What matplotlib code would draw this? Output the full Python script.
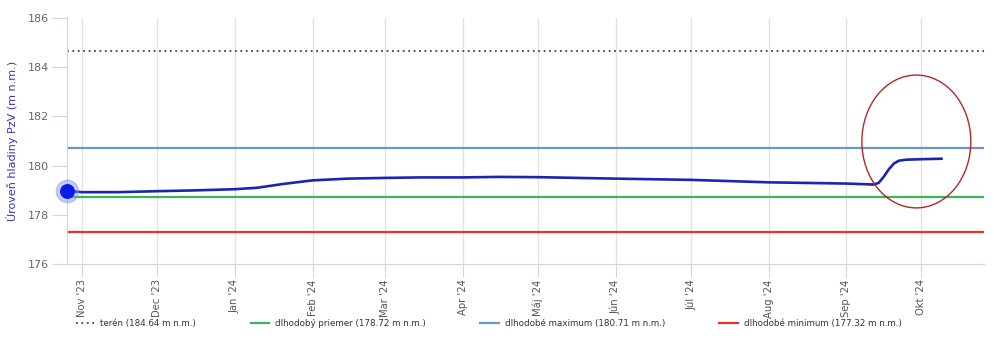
import numpy as np
import pandas as pd
import matplotlib
matplotlib.use("Agg")
import matplotlib.pyplot as plt
import matplotlib.dates as mdates
from matplotlib.patches import Ellipse

# water level series
dates = pd.to_datetime([
    "2023-10-26", "2023-11-01", "2023-11-15", "2023-12-01", "2023-12-15",
    "2024-01-01", "2024-01-10", "2024-01-20", "2024-02-01", "2024-02-15",
    "2024-03-01", "2024-03-15", "2024-04-01", "2024-04-15", "2024-05-01",
    "2024-06-01", "2024-07-01", "2024-08-01", "2024-09-01", "2024-09-12",
    "2024-09-14", "2024-09-16", "2024-09-18", "2024-09-20", "2024-09-22",
    "2024-09-25", "2024-10-01", "2024-10-09",
])
levels = [
    178.98, 178.92, 178.92, 178.96, 178.99,
    179.04, 179.10, 179.25, 179.40, 179.47,
    179.50, 179.52, 179.52, 179.54, 179.53,
    179.47, 179.42, 179.32, 179.27, 179.23,
    179.30, 179.55, 179.85, 180.08, 180.20,
    180.24, 180.26, 180.28,
]

teren = 184.64
priemer = 178.72
maximum = 180.71
minimum = 177.32

month_ticks = pd.date_range("2023-11-01", "2024-10-01", freq="MS")
month_labels = ["Nov '23", "Dec '23", "Jan '24", "Feb '24", "Mar '24", "Apr '24",
                "Máj '24", "Jún '24", "Júl '24", "Aug '24", "Sep '24", "Okt '24"]

plt.rcParams["font.family"] = ["DejaVu Sans"]

fig = plt.figure(figsize=(9.95, 3.53), dpi=100)
ax = fig.add_axes([67/995, 89/353, (984-67)/995, (264-18)/353])

ax.axhline(teren, color="#5a3b2e", lw=1.3, ls=(0, (1, 2)), label="terén (184.64 m n.m.)")
ax.axhline(priemer, color="#3cb25a", lw=1.6, label="dlhodobý priemer (178.72 m n.m.)")
ax.axhline(maximum, color="#6b96c8", lw=1.6, label="dlhodobé maximum (180.71 m n.m.)")
ax.axhline(minimum, color="#e8312a", lw=1.6, label="dlhodobé minimum (177.32 m n.m.)")

ax.plot(dates, levels, color="#1c24b4", lw=1.9, zorder=4)
ax.scatter(dates[:1], levels[:1], s=260, color="#7f96e6", alpha=0.45, zorder=5, clip_on=False)
ax.scatter(dates[:1], levels[:1], s=95, color="#0a1de8", zorder=6, clip_on=False)

# red hand-drawn circle around the recent rise
ell_center = mdates.date2num(pd.Timestamp("2024-09-29"))
ax.add_patch(Ellipse((ell_center, 180.98), 43.5, 5.4, fill=False,
                     edgecolor="#b3262a", lw=1.0, zorder=7))

ax.set_xlim(pd.Timestamp("2023-10-26"), pd.Timestamp("2024-10-26"))
ax.set_ylim(176, 186)
ax.set_yticks([176, 178, 180, 182, 184, 186])
ax.set_xticks(month_ticks)
ax.set_xticklabels(month_labels, rotation=90)

ax.grid(axis="x", color="#e3e3e3", lw=1)
ax.set_axisbelow(True)
for s in ["top", "right"]:
    ax.spines[s].set_visible(False)
ax.spines["left"].set_color("#ccd6eb")
ax.spines["bottom"].set_color("#ccd6eb")
ax.tick_params(axis="y", length=11, color="#ccd6eb", labelsize=8, labelcolor="#666666", pad=2)
ax.tick_params(axis="x", length=9, color="#ccd6eb", labelsize=7.2, labelcolor="#555555", pad=2)

ax.set_ylabel("Úroveň hladiny PzV (m n.m.)", color="#3034c4", fontsize=8, labelpad=7)

fig.legend(loc="upper left", bbox_to_anchor=(76/995, 1-319/353), ncol=4, frameon=False,
           fontsize=6.3, handlelength=2.1, handletextpad=0.7, columnspacing=6.2,
           borderpad=0, borderaxespad=0, labelcolor="#333333")

fig.savefig("out.png", dpi=100)
